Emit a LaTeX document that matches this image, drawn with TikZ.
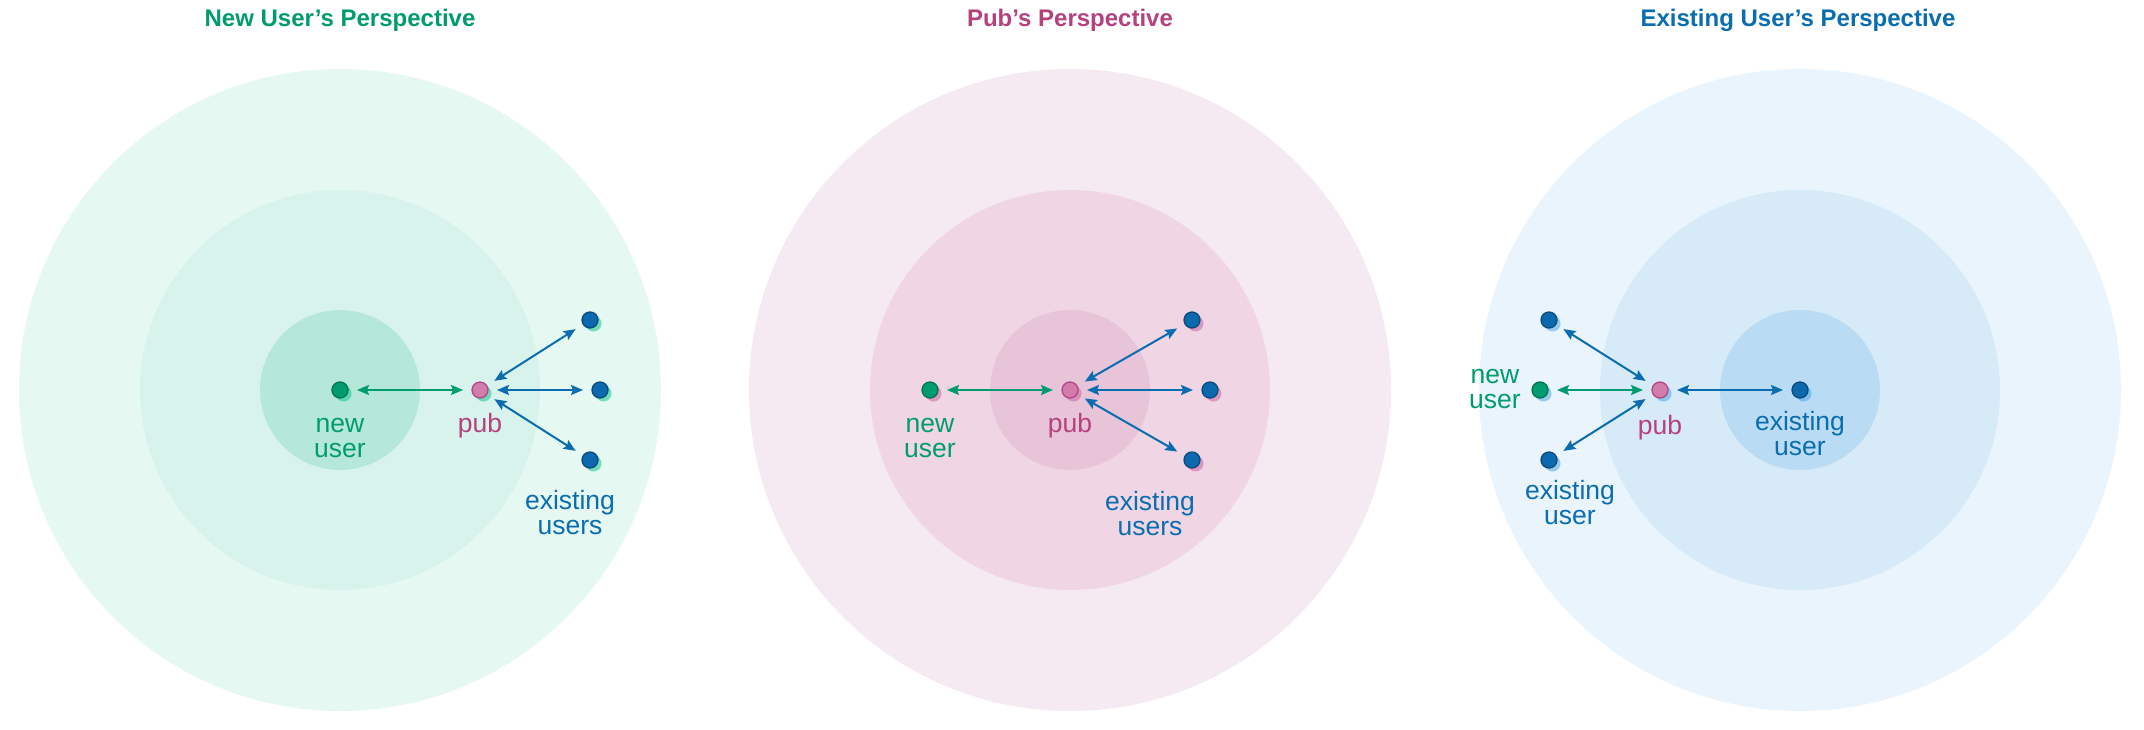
\documentclass[tikz,border=0pt]{standalone}
\usepackage{fontspec}
\setmainfont{Liberation Sans}
\usetikzlibrary{arrows.meta,shadows}
\definecolor{gtxt}{HTML}{009C6F}
\definecolor{gdark}{HTML}{00754F}
\definecolor{ptxt}{HTML}{B5427F}
\definecolor{pfill}{HTML}{D27CAC}
\definecolor{pdark}{HTML}{B04784}
\definecolor{btxt}{HTML}{0A6DB0}
\definecolor{bfill}{HTML}{0C69AE}
\definecolor{bdark}{HTML}{084A7E}
\definecolor{gA}{HTML}{E6F8F2}
\definecolor{gB}{HTML}{D8F3EC}
\definecolor{gC}{HTML}{B6E8D9}
\definecolor{pA}{HTML}{F5EAF1}
\definecolor{pB}{HTML}{F0D6E5}
\definecolor{pC}{HTML}{E8C4D9}
\definecolor{bA}{HTML}{EAF4FC}
\definecolor{bB}{HTML}{D6EAF8}
\definecolor{bC}{HTML}{B9DCF4}
\definecolor{gsh}{HTML}{00C48A}
\definecolor{psh}{HTML}{C75A9A}
\definecolor{bsh}{HTML}{41A0E2}
\tikzset{
  dotbase/.style={circle, minimum size=16pt, inner sep=0pt, outer sep=9pt, line width=1.3pt, shc},
  gdot/.style={dotbase, fill=gtxt, draw=gdark},
  pdot/.style={dotbase, fill=pfill, draw=pdark},
  bdot/.style={dotbase, fill=bfill, draw=bdark},
  lbl/.style={font=\fontsize{26.5}{25}\selectfont, align=center, inner sep=0pt, anchor=base},
  ttl/.style={font=\fontsize{24}{28}\selectfont\bfseries, inner sep=0pt, anchor=base},
  conn/.style={line width=2pt, {Stealth[length=12pt,width=10pt,inset=2pt]}-{Stealth[length=12pt,width=10pt,inset=2pt]}},
  shadowof/.style={shc/.style={drop shadow={shadow xshift=3.5pt, shadow yshift=-3.5pt, fill=#1, opacity=0.5}}}
}
\begin{document}
\begin{tikzpicture}[x=1pt,y=-1pt]
\useasboundingbox (0,0) rectangle (2144,730);
\fill[white] (0,0) rectangle (2144,730);
% ---------- Panel 1: New user's perspective
\begin{scope}[shadowof=gsh]
\fill[gA] (340,390) circle[radius=321pt];
\fill[gB] (340,390) circle[radius=200pt];
\fill[gC] (340,390) circle[radius=80pt];
\node[ttl, text=gtxt] (t1) at (340,27) {New User’s Perspective};
\node[gdot] (n1) at (340,390) {};
\node[pdot] (p1) at (480,390) {};
\node[bdot] (a1) at (590,320) {};
\node[bdot] (b1) at (600,390) {};
\node[bdot] (c1) at (590,460) {};
\draw[conn, gtxt] (n1) -- (p1);
\draw[conn, btxt] (p1) -- (a1);
\draw[conn, btxt] (p1) -- (b1);
\draw[conn, btxt] (p1) -- (c1);
\node[lbl, text=gtxt] (ln1) at (340,457) {new\\user};
\node[lbl, text=ptxt] (lp1) at (480,432) {pub};
\node[lbl, text=btxt] (le1) at (570,534) {existing\\users};
\end{scope}
% ---------- Panel 2: Pub's perspective
\begin{scope}[shadowof=psh]
\fill[pA] (1070,390) circle[radius=321pt];
\fill[pB] (1070,390) circle[radius=200pt];
\fill[pC] (1070,390) circle[radius=80pt];
\node[ttl, text=ptxt] (t2) at (1070,27) {Pub’s Perspective};
\node[gdot] (n2) at (930,390) {};
\node[pdot] (p2) at (1070,390) {};
\node[bdot] (a2) at (1192,320) {};
\node[bdot] (b2) at (1210,390) {};
\node[bdot] (c2) at (1192,460) {};
\draw[conn, gtxt] (n2) -- (p2);
\draw[conn, btxt] (p2) -- (a2);
\draw[conn, btxt] (p2) -- (b2);
\draw[conn, btxt] (p2) -- (c2);
\node[lbl, text=gtxt] (ln2) at (930,457) {new\\user};
\node[lbl, text=ptxt] (lp2) at (1070,432) {pub};
\node[lbl, text=btxt] (le2) at (1150,535) {existing\\users};
\end{scope}
% ---------- Panel 3: Existing user's perspective
\begin{scope}[shadowof=bsh]
\fill[bA] (1800,390) circle[radius=321pt];
\fill[bB] (1800,390) circle[radius=200pt];
\fill[bC] (1800,390) circle[radius=80pt];
\node[ttl, text=btxt] (t3) at (1798,27) {Existing User’s Perspective};
\node[gdot] (n3) at (1540,390) {};
\node[pdot] (p3) at (1660,390) {};
\node[bdot] (a3) at (1549,320) {};
\node[bdot] (c3) at (1549,460) {};
\node[bdot] (r3) at (1800,390) {};
\draw[conn, gtxt] (n3) -- (p3);
\draw[conn, btxt] (p3) -- (a3);
\draw[conn, btxt] (p3) -- (c3);
\draw[conn, btxt] (p3) -- (r3);
\node[lbl, text=gtxt] (ln3) at (1495,408) {new\\user};
\node[lbl, text=ptxt] (lp3) at (1660,434) {pub};
\node[lbl, text=btxt] (lr3) at (1800,455) {existing\\user};
\node[lbl, text=btxt] (lc3) at (1570,524) {existing\\user};
\end{scope}
\end{tikzpicture}
\end{document}
